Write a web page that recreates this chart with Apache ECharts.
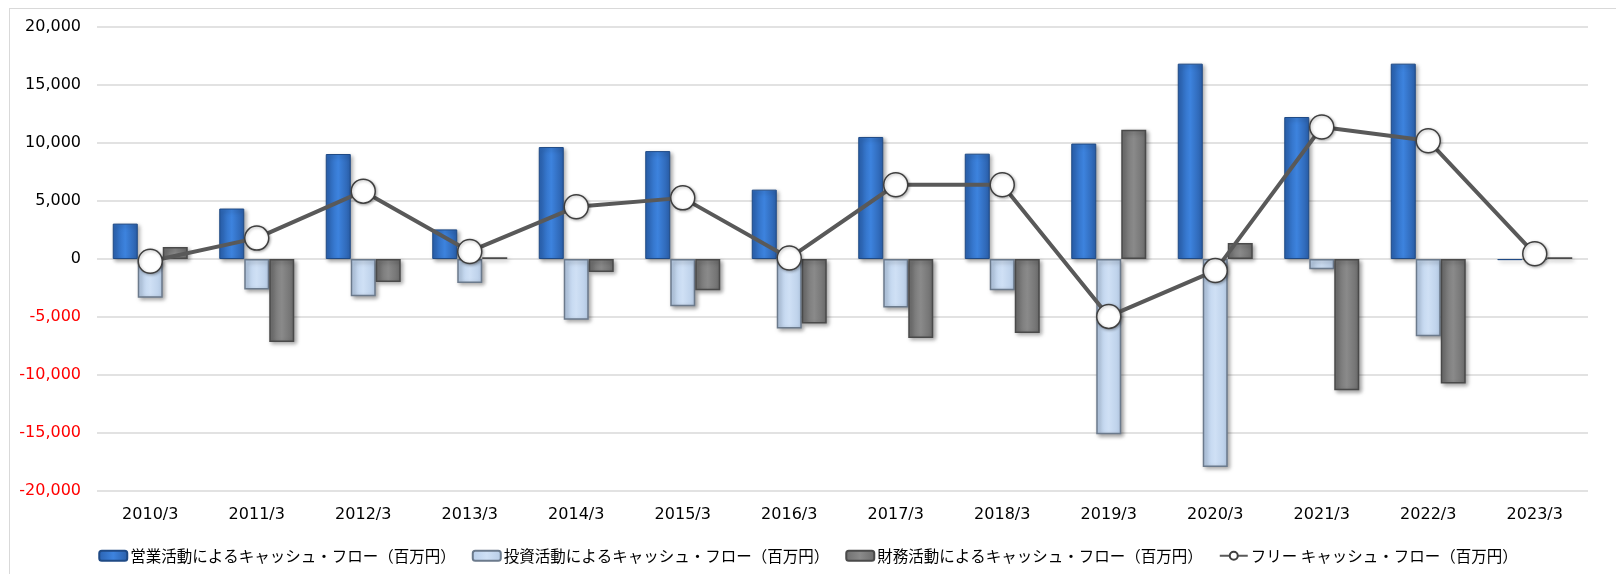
<!doctype html>
<html lang="ja">

<head>
	<meta charset="UTF-8">
	<title>キャッシュ・フロー推移</title>
	<script src="https://cdn.jsdelivr.net/npm/echarts@6/dist/echarts.min.js"></script>
	<style>
		html,
		body {
			margin: 0;
			padding: 0;
			background: #fff;
		}

		#frame {
			position: absolute;
			left: 9px;
			top: 8px;
			width: 1700px;
			height: 700px;
			border-left: 1px solid #d9d9d9;
			border-top: 1px solid #d9d9d9;
		}

		#main {
			position: absolute;
			left: 0;
			top: 0;
			width: 1616px;
			height: 574px;
		}
	</style>
</head>

<body>
	<div id="frame"></div>
	<div id="main"></div>
	<script type="text/javascript">
		// 決算期
		var categories = ['2010/3', '2011/3', '2012/3', '2013/3', '2014/3', '2015/3', '2016/3',
			'2017/3', '2018/3', '2019/3', '2020/3', '2021/3', '2022/3', '2023/3'];
		// 百万円
		var operating = [3050, 4350, 9050, 2550, 9650, 9300, 5980, 10520, 9080, 9950, 16840, 12240, 16840, -100];
		var investing = [-3330, -2640, -3220, -2070, -5230, -4080, -6000, -4190, -2700, -15110, -17930, -890, -6670, -30];
		var financing = [1030, -7150, -1980, 150, -1120, -2700, -5570, -6810, -6380, 11150, 1380, -11320, -10740, 150];
		var freeCF = [-200, 1800, 5850, 650, 4500, 5270, 80, 6400, 6400, -4950, -1000, 11380, 10200, 450];
		var yTicks = { min: -20000, max: 20000, interval: 5000 };

		var names = [
			'営業活動によるキャッシュ・フロー（百万円）',
			'投資活動によるキャッシュ・フロー（百万円）',
			'財務活動によるキャッシュ・フロー（百万円）',
			'フリー キャッシュ・フロー（百万円）'
		];

		function grad(c0, c1, c2) {
			return new echarts.graphic.LinearGradient(0, 0, 1, 0, [
				{ offset: 0, color: c0 },
				{ offset: 0.5, color: c1 },
				{ offset: 1, color: c2 }
			]);
		}

		var shadow = {
			shadowColor: 'rgba(0,0,0,0.35)',
			shadowBlur: 4,
			shadowOffsetX: 2,
			shadowOffsetY: 2
		};

		var myChart = echarts.init(document.getElementById('main'));

		option = {
			animation: false,
			textStyle: { fontFamily: 'DejaVu Sans' },
			grid: { left: 97, right: 28, top: 27, bottom: 83 },
			legend: {
				top: 543,
				left: 'center',
				itemWidth: 28,
				itemHeight: 10,
				itemGap: 16,
				textStyle: { fontFamily: 'Noto Sans CJK JP', fontSize: 15.5, color: '#000', padding: [0, 0, 0, -2] },
				data: names
			},
			xAxis: {
				type: 'category',
				data: categories,
				axisLine: { show: false, onZero: false },
				axisTick: { show: false },
				axisLabel: { color: '#000', fontSize: 16, margin: 16 }
			},
			yAxis: {
				type: 'value',
				min: yTicks.min,
				max: yTicks.max,
				interval: yTicks.interval,
				axisLine: { show: false },
				axisTick: { show: false },
				splitLine: { lineStyle: { color: '#d9d9d9', width: 1.5 } },
				axisLabel: {
					margin: 16,
					fontSize: 16,
					color: '#000',
					formatter: function (v) {
						var s = v.toLocaleString('en-US');
						return v < 0 ? '{neg|' + s + '}' : s;
					},
					rich: { neg: { color: '#ff0000', fontSize: 16, fontFamily: 'DejaVu Sans' } }
				}
			},
			series: [
				{
					name: names[0],
					type: 'bar',
					data: operating,
					barWidth: 25,
					barGap: '0%',
					itemStyle: Object.assign({
						color: grad('#2a62b0', '#3d83de', '#2a5ea8'),
						borderColor: '#1f4a85',
						borderWidth: 1
					}, shadow)
				},
				{
					name: names[1],
					type: 'bar',
					data: investing,
					barWidth: 25,
					barGap: '0%',
					itemStyle: Object.assign({
						color: grad('#b9cfea', '#cfe0f5', '#b7cce6'),
						borderColor: '#6b7a8c',
						borderWidth: 1.5
					}, shadow)
				},
				{
					name: names[2],
					type: 'bar',
					data: financing,
					barWidth: 25,
					barGap: '0%',
					itemStyle: Object.assign({
						color: grad('#6f6f6f', '#8a8a8a', '#6c6c6c'),
						borderColor: '#4a4a4a',
						borderWidth: 1.5
					}, shadow)
				},
				{
					name: names[3],
					type: 'line',
					data: freeCF,
					z: 5,
					symbol: 'circle',
					symbolSize: 24,
					lineStyle: { color: '#595959', width: 4 },
					itemStyle: {
						color: '#ffffff',
						borderColor: '#3f3f3f',
						borderWidth: 1.5,
						shadowColor: 'rgba(0,0,0,0.3)',
						shadowBlur: 3,
						shadowOffsetX: 1,
						shadowOffsetY: 1
					}
				}
			]
		};
		myChart.setOption(option);
		window.onresize = () => myChart.resize();
	</script>
</body>

</html>
